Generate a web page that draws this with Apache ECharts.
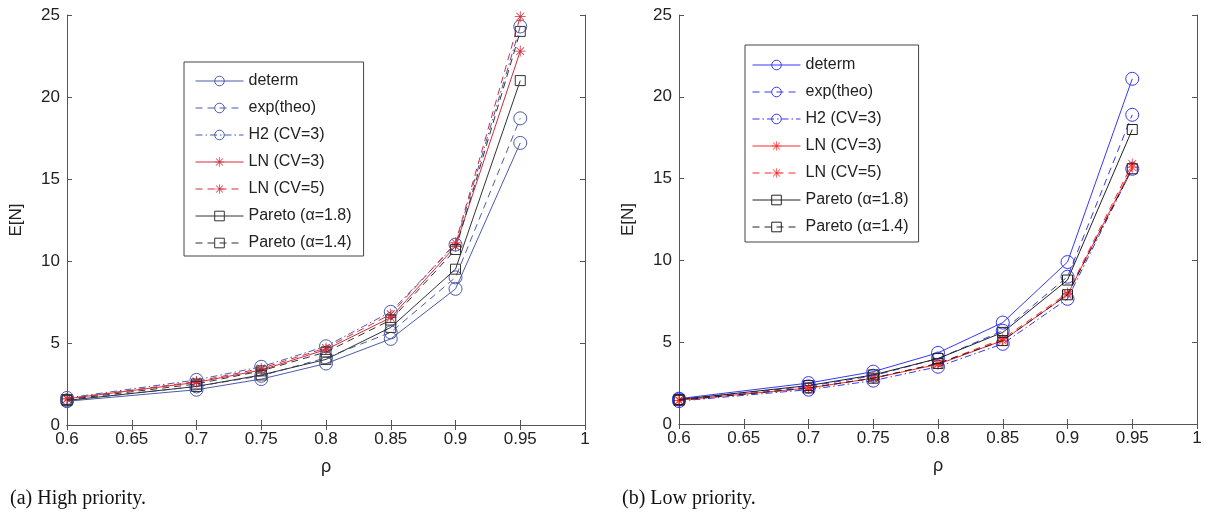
<!DOCTYPE html>
<html>
<head>
<meta charset="utf-8">
<script src="https://cdn.jsdelivr.net/npm/echarts@6/dist/echarts.min.js"></script>
<style>
  html, body { margin: 0; padding: 0; background: #fff; }
  #wrap { position: relative; width: 1209px; height: 512px; }
  #left { position: absolute; left: 0; top: 0; width: 605px; height: 512px; }
  #right { position: absolute; left: 605px; top: 0; width: 604px; height: 512px; }
</style>
</head>
<body>
<div id="wrap"><div id="left"></div><div id="right"></div></div>
<script>
// ---- data ----
const rho = [0.6, 0.7, 0.75, 0.8, 0.85, 0.9, 0.95];
const seriesNames = ['determ', 'exp(theo)', 'H2 (CV=3)', 'LN (CV=3)', 'LN (CV=5)', 'Pareto (\u03b1=1.8)', 'Pareto (\u03b1=1.4)'];
const xTickMin = 0.6, xTickMax = 1, xTickStep = 0.05;
const yTickMin = 0, yTickMax = 25, yTickStep = 5;

// (a) High priority
const hiDeterm = [1.45, 2.15, 2.8, 3.75, 5.25, 8.3, 17.2];
const hiExp    = [1.5, 2.35, 3.0, 4.1, 5.65, 9.0, 18.7];
const hiH2     = [1.65, 2.75, 3.55, 4.8, 6.9, 11.0, 24.3];
const hiLN3    = [1.6, 2.6, 3.35, 4.6, 6.55, 10.9, 22.8];
const hiLN5    = [1.6, 2.65, 3.45, 4.7, 6.75, 11.1, 24.9];
const hiPar18  = [1.5, 2.35, 3.05, 4.0, 5.95, 9.5, 21.0];
const hiPar14  = [1.55, 2.5, 3.3, 4.45, 6.4, 10.7, 24.0];

// (b) Low priority
const loDeterm = [1.55, 2.5, 3.2, 4.35, 6.2, 9.9, 21.1];
const loExp    = [1.5, 2.3, 2.95, 4.0, 5.7, 9.0, 18.9];
const loH2     = [1.4, 2.1, 2.65, 3.5, 4.9, 7.65, 15.6];
const loLN3    = [1.45, 2.2, 2.8, 3.65, 5.1, 7.9, 15.7];
const loLN5    = [1.45, 2.2, 2.8, 3.7, 5.2, 8.0, 15.9];
const loPar18  = [1.5, 2.35, 3.0, 4.0, 5.6, 8.8, 18.0];
const loPar14  = [1.45, 2.2, 2.8, 3.7, 5.1, 7.9, 15.6];

// ---- styling ----
const STAR = 'path://M9.3,0 L10.7,0 L10.7,20 L9.3,20 Z M0,9.3 L20,9.3 L20,10.7 L0,10.7 Z M2.4,3.4 L3.4,2.4 L17.6,16.6 L16.6,17.6 Z M16.6,2.4 L17.6,3.4 L3.4,17.6 L2.4,16.6 Z';
const DASH = [7, 5];
const DASHDOT = [7, 3, 1.5, 3];
const FONT = 'Liberation Sans, Arial, sans-serif';

function pairs(ys) { return rho.map((x, i) => [x, ys[i]]); }

function makeSeries(arrs, blue, red, black) {
  const spec = [
    { c: blue, t: 'solid', s: 'circle', sz: 13 },
    { c: blue, t: DASH, s: 'circle', sz: 13 },
    { c: blue, t: DASHDOT, s: 'circle', sz: 13 },
    { c: red, t: 'solid', s: STAR, sz: 11 },
    { c: red, t: DASH, s: STAR, sz: 11 },
    { c: black, t: 'solid', s: 'rect', sz: 10 },
    { c: black, t: DASH, s: 'rect', sz: 10 }
  ];
  return arrs.map((ys, i) => {
    const sp = spec[i];
    const star = sp.s === STAR;
    return {
      name: seriesNames[i],
      type: 'line',
      data: pairs(ys),
      symbol: sp.s,
      symbolSize: sp.sz,
      showSymbol: true,
      animation: false,
      silent: true,
      lineStyle: { color: sp.c, width: 1, type: sp.t },
      itemStyle: star
        ? { color: sp.c, borderWidth: 0 }
        : { color: 'rgba(255,255,255,0)', borderColor: sp.c, borderWidth: 1 },
      emphasis: { disabled: true },
      z: 2 + i
    };
  });
}

function makeOption(o) {
  const axisLine = { lineStyle: { color: '#555', width: 1 } };
  const tick = { show: true, inside: true, length: 5, lineStyle: { color: '#555' } };
  return {
    backgroundColor: '#fff',
    animation: false,
    title: {
      text: o.caption, left: o.captionLeft, top: 484,
      textStyle: { fontFamily: 'Liberation Serif, Times New Roman, serif', fontSize: 20, fontWeight: 'normal', color: '#111' }
    },
    grid: { left: o.gridLeft, top: 15, width: o.gridWidth, height: o.gridHeight, containLabel: false },
    legend: {
      orient: 'vertical', left: o.legendLeft, top: o.legendTop,
      itemWidth: 48, itemHeight: 12, itemGap: 11,
      padding: o.legendPadding,
      borderColor: '#444', borderWidth: 1, backgroundColor: '#fff',
      textStyle: { fontFamily: FONT, fontSize: 16, color: '#222' },
      lineStyle: { width: 1 },
      itemStyle: { borderWidth: 1 },
      selectedMode: false,
      data: seriesNames
    },
    xAxis: [
      {
        type: 'value', min: xTickMin, max: xTickMax, interval: xTickStep,
        name: '\u03c1', nameLocation: 'middle', nameGap: 33,
        nameTextStyle: { fontFamily: FONT, fontSize: 18, color: '#222' },
        axisLine: axisLine, axisTick: tick,
        axisLabel: { fontFamily: FONT, fontSize: 17, color: '#222', margin: 6 },
        splitLine: { show: false }
      },
      {
        type: 'value', position: 'top', min: xTickMin, max: xTickMax, interval: xTickStep,
        axisLine: axisLine, axisTick: tick, axisLabel: { show: false }, splitLine: { show: false }
      }
    ],
    yAxis: [
      {
        type: 'value', min: yTickMin, max: yTickMax, interval: yTickStep,
        name: 'E[N]', nameLocation: 'middle', nameGap: 42,
        nameTextStyle: { fontFamily: FONT, fontSize: 17, color: '#222' },
        axisLine: { show: true, lineStyle: { color: '#555', width: 1 } }, axisTick: tick,
        axisLabel: { fontFamily: FONT, fontSize: 17, color: '#222', margin: 7 },
        splitLine: { show: false }
      },
      {
        type: 'value', position: 'right', min: yTickMin, max: yTickMax, interval: yTickStep,
        axisLine: { show: true, lineStyle: { color: '#555', width: 1 } }, axisTick: tick,
        axisLabel: { show: false }, splitLine: { show: false }
      }
    ],
    series: o.series
  };
}

const leftChart = echarts.init(document.getElementById('left'), null, { renderer: 'canvas' });
leftChart.setOption(makeOption({
  caption: '(a) High priority.', captionLeft: 5,
  gridLeft: 65, gridWidth: 520, gridHeight: 410,
  legendLeft: 184, legendTop: 62, legendPadding: [11, 12, 5, 11],
  series: makeSeries([hiDeterm, hiExp, hiH2, hiLN3, hiLN5, hiPar18, hiPar14], '#4A5BAA', '#D42A3E', '#333333')
}));

const rightChart = echarts.init(document.getElementById('right'), null, { renderer: 'canvas' });
rightChart.setOption(makeOption({
  caption: '(b) Low priority.', captionLeft: 12,
  gridLeft: 74, gridWidth: 518, gridHeight: 409,
  legendLeft: 140, legendTop: 45, legendPadding: [12, 10, 7, 7],
  series: makeSeries([loDeterm, loExp, loH2, loLN3, loLN5, loPar18, loPar14], '#3838F2', '#FF2A2A', '#222222')
}));
</script>
</body>
</html>
